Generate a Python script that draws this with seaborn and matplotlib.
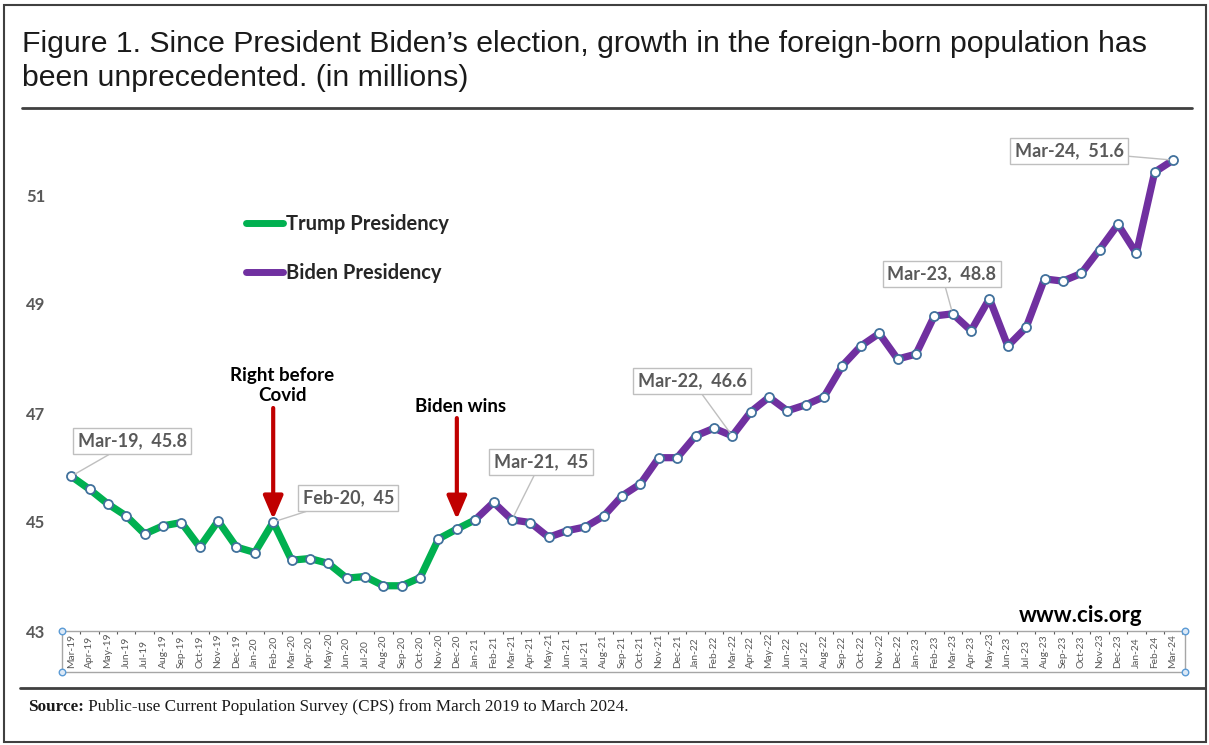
import numpy as np
import pandas as pd
import matplotlib
matplotlib.use("Agg")
import matplotlib.pyplot as plt
from matplotlib.lines import Line2D
from matplotlib.patches import Rectangle
import seaborn as sns

# ---------------- data ----------------
months = [
    "Mar-19", "Apr-19", "May-19", "Jun-19", "Jul-19", "Aug-19", "Sep-19", "Oct-19", "Nov-19", "Dec-19",
    "Jan-20", "Feb-20", "Mar-20", "Apr-20", "May-20", "Jun-20", "Jul-20", "Aug-20", "Sep-20", "Oct-20",
    "Nov-20", "Dec-20", "Jan-21", "Feb-21", "Mar-21", "Apr-21", "May-21", "Jun-21", "Jul-21", "Aug-21",
    "Sep-21", "Oct-21", "Nov-21", "Dec-21", "Jan-22", "Feb-22", "Mar-22", "Apr-22", "May-22", "Jun-22",
    "Jul-22", "Aug-22", "Sep-22", "Oct-22", "Nov-22", "Dec-22", "Jan-23", "Feb-23", "Mar-23", "Apr-23",
    "May-23", "Jun-23", "Jul-23", "Aug-23", "Sep-23", "Oct-23", "Nov-23", "Dec-23", "Jan-24", "Feb-24",
    "Mar-24",
]
population = [
    45.84, 45.60, 45.33, 45.11, 44.78, 44.93, 44.99, 44.54, 45.02, 44.54,
    44.44, 45.00, 44.30, 44.33, 44.24, 43.97, 44.00, 43.83, 43.83, 43.98,
    44.69, 44.87, 45.04, 45.36, 45.04, 44.99, 44.72, 44.84, 44.91, 45.11,
    45.48, 45.70, 46.18, 46.18, 46.58, 46.72, 46.58, 47.02, 47.29, 47.04,
    47.15, 47.30, 47.87, 48.23, 48.46, 47.99, 48.08, 48.78, 48.82, 48.51,
    49.10, 48.23, 48.57, 49.46, 49.42, 49.56, 50.00, 50.46, 49.93, 51.42,
    51.64,
]
last_trump_month = "Jan-21"
series_names = ["Trump Presidency", "Biden Presidency"]
labeled_months = ["Mar-19", "Feb-20", "Mar-21", "Mar-22", "Mar-23", "Mar-24"]
y_ticks = [43, 45, 47, 49, 51]

# ---------------- styling ----------------
GREEN = "#00B050"
PURPLE = "#7030A0"
MARKER_EDGE = "#41719C"
GRAY_TXT = "#595959"
RED = "#C00000"

W, H = 1209, 745
sns.set_theme(style="white")
plt.rcParams["font.family"] = ["Lato", "DejaVu Sans"]

df = pd.DataFrame({"month": months, "value": population})
df["pos"] = np.arange(len(df))
split = months.index(last_trump_month)
trump = df.iloc[: split + 1]
biden = df.iloc[split:]

fig = plt.figure(figsize=(W / 100, H / 100), dpi=100)
fig.patch.set_facecolor("white")
ax_left, ax_right, ax_bottom, ax_top = 62, 1185, 631, 140.5
ax = fig.add_axes([ax_left / W, 1 - ax_bottom / H, (ax_right - ax_left) / W, (ax_bottom - ax_top) / H])

line_kw = dict(marker="o", markersize=6.5, markerfacecolor="white",
               markeredgecolor=MARKER_EDGE, markeredgewidth=1.3,
               linewidth=5.2, legend=False, ax=ax)
sns.lineplot(data=trump, x="pos", y="value", color=GREEN, **line_kw)
sns.lineplot(data=biden, x="pos", y="value", color=PURPLE, **line_kw)

ax.set_xlim(-0.42, 60.65)
ax.set_ylim(43, 52)
ax.set_xlabel("")
ax.set_ylabel("")
for s in ax.spines.values():
    s.set_visible(False)

ax.set_xticks(df["pos"])
ax.set_xticklabels(months, rotation=90, fontsize=7.4, color=GRAY_TXT, va="bottom")
ax.tick_params(axis="x", which="major", length=0, pad=27)
ax.set_xticks(np.arange(-0.5, 60.6, 1), minor=True)
ax.tick_params(axis="x", which="minor", length=2.2, width=0.8, color=GRAY_TXT, direction="out", bottom=True)
ax.set_yticks(y_ticks)
ax.set_yticklabels([str(t) for t in y_ticks], fontsize=12, fontweight="bold", color=GRAY_TXT)
ax.tick_params(axis="y", length=0, pad=12)

# category-axis box
box_h = (672 - ax_bottom) / (ax_bottom - ax_top)
ax.add_patch(Rectangle((0, -box_h), 1, box_h, transform=ax.transAxes, fill=False,
                       ec="#A6A6A6", lw=1.0, clip_on=False, zorder=1))
ax.scatter([0, 1, 0, 1], [0, 0, -box_h, -box_h], transform=ax.transAxes, s=22,
           facecolor="#DCE9F7", edgecolor="#5B9BD5", linewidth=1.0, clip_on=False, zorder=5)

# legend
handles = [Line2D([], [], color=GREEN, lw=5), Line2D([], [], color=PURPLE, lw=5)]
ax.legend(handles, series_names, loc="upper left",
          bbox_to_anchor=(246 / W, 1 - 214 / H), bbox_transform=fig.transFigure,
          frameon=False, prop=dict(family="Lato", weight="bold", size=14.5),
          handlelength=1.85, handletextpad=0.15, labelspacing=1.45, borderpad=0, borderaxespad=0)

# data labels
label_offsets = [(61, 35), (75, 24), (29, 58), (-40, 55), (-11, 40), (-104, 9)]
for m, (dx, dy) in zip(labeled_months, label_offsets):
    i = months.index(m)
    v = population[i]
    vtxt = f"{v:.1f}".rstrip("0").rstrip(".")
    ax.annotate(f"{m},  {vtxt}", xy=(i, v), xytext=(dx, dy), textcoords="offset pixels",
                ha="center", va="center", fontsize=13, fontweight="bold", color=GRAY_TXT,
                bbox=dict(boxstyle="square,pad=0.25", fc="white", ec="#BFBFBF", lw=1),
                arrowprops=dict(arrowstyle="-", color="#BFBFBF", lw=1, shrinkA=0, shrinkB=3),
                zorder=6)

# event arrows
events = [("Feb-20", "Right before\nCovid", 114, 2, 9, 118), ("Dec-20", "Biden wins", 111, 7, 4, 114)]
for m, txt, tail, shrink, tdx, tdy in events:
    i = months.index(m)
    v = population[i]
    ax.annotate("", xy=(i, v), xytext=(0, tail), textcoords="offset pixels",
                arrowprops=dict(arrowstyle="-|>,head_length=1.4,head_width=0.6", mutation_scale=10,
                                color=RED, lw=3, shrinkA=0, shrinkB=shrink), zorder=4)
    ax.annotate(txt, xy=(i, v), xytext=(tdx, tdy), textcoords="offset pixels",
                ha="center", va="bottom", fontsize=13.5, fontweight="bold", color="black",
                linespacing=1.25)

fig.text(1081 / W, 1 - 616 / H, "www.cis.org", ha="center", va="center",
         fontsize=16, fontweight="bold", color="black")

# title and frame
fig.text(22 / W, 1 - 52 / H, "Figure 1. Since President Biden\u2019s election, growth in the foreign-born population has",
         family="Liberation Sans", fontsize=21.8, color="#1A1A1A", va="baseline", ha="left")
fig.text(22 / W, 1 - 86 / H, "been unprecedented. (in millions)",
         family="Liberation Sans", fontsize=21.8, color="#1A1A1A", va="baseline", ha="left")
fig.add_artist(Line2D([22 / W, 1192 / W], [1 - 108 / H] * 2, color="#404040", lw=2))
fig.add_artist(Line2D([20 / W, 1205 / W], [1 - 688 / H] * 2, color="#404040", lw=2))
fig.add_artist(Rectangle((4 / W, 3 / H), 1202 / W, 737 / H, transform=fig.transFigure,
                         fill=False, ec="#404040", lw=1.5))

t1 = fig.text(28 / W, 1 - 711 / H, "Source:", family="Liberation Serif", fontweight="bold",
              fontsize=12.3, color="#1A1A1A", va="baseline", ha="left")
ax.annotate(" Public-use Current Population Survey (CPS) from March 2019 to March 2024.",
            xy=(1, 0), xycoords=t1, va="bottom", ha="left", family="Liberation Serif",
            fontsize=12.3, color="#1A1A1A", annotation_clip=False)

fig.savefig("out.png", dpi=100)
